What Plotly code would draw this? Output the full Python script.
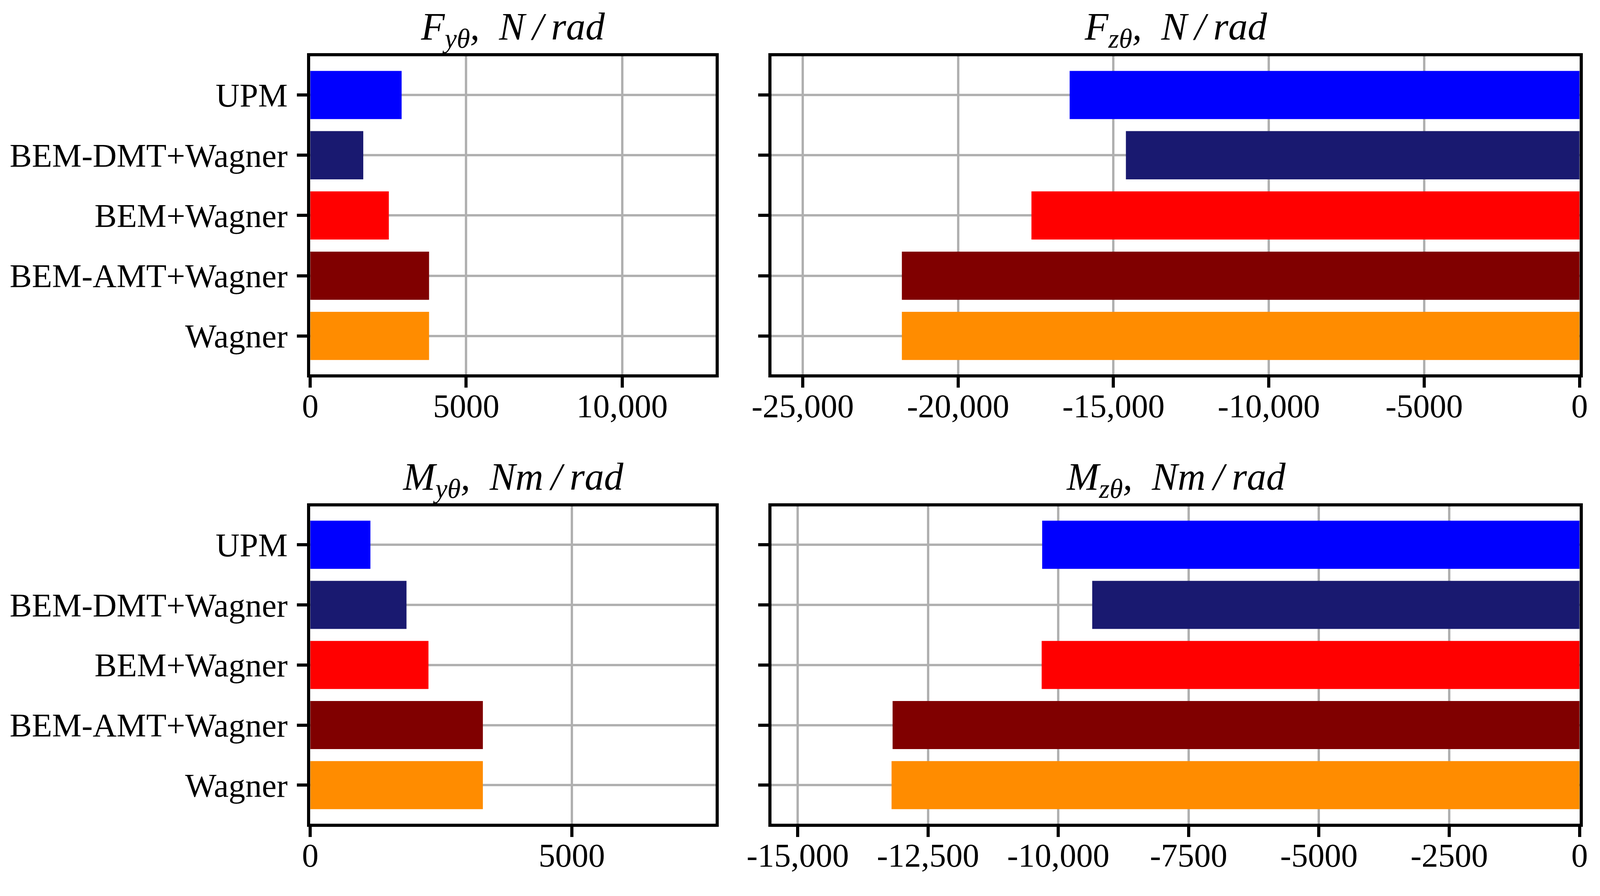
import plotly.graph_objects as go

# bar order top -> bottom, as in the picture
methods = ["UPM", "BEM-DMT+Wagner", "BEM+Wagner", "BEM-AMT+Wagner", "Wagner"]
colors = ["#0000ff", "#191970", "#ff0000", "#800000", "#ff8c00"]

fy_theta = [2930, 1700, 2520, 3810, 3810]
fz_theta = [-16410, -14600, -17640, -21810, -21810]
my_theta = [1150, 1840, 2260, 3300, 3300]
mz_theta = [-10310, -9350, -10320, -13180, -13200]

fy_ticks = [0, 5000, 10000]
fy_labels = ["0", "5000", "10,000"]
fz_ticks = [-25000, -20000, -15000, -10000, -5000, 0]
fz_labels = ["-25,000", "-20,000", "-15,000", "-10,000", "-5000", "0"]
my_ticks = [0, 5000]
my_labels = ["0", "5000"]
mz_ticks = [-15000, -12500, -10000, -7500, -5000, -2500, 0]
mz_labels = ["-15,000", "-12,500", "-10,000", "-7500", "-5000", "-2500", "0"]

# the page comes out ~1% magnified and keeps its 8px body margin,
# so the figure is made a little smaller than the window
W, H = 4076, 2252
FONT = "Liberation Serif"
GRID = "#b0b0b0"

panels = [
    # values, ticks, labels, xrange, xdomain, ydomain, title, show names
    (fy_theta, fy_ticks, fy_labels, [0, 13000], [0.1929, 0.4475], [0.5780, 0.9394],
     "<i>F<sub>yθ</sub>,  N\u2009/\u2009rad</i>", True),
    (fz_theta, fz_ticks, fz_labels, [-26000, 0], [0.4827, 0.9901], [0.5780, 0.9394],
     "<i>F<sub>zθ</sub>,  N\u2009/\u2009rad</i>", False),
    (my_theta, my_ticks, my_labels, [0, 7750], [0.1929, 0.4475], [0.0676, 0.4282],
     "<i>M<sub>yθ</sub>,  Nm\u2009/\u2009rad</i>", True),
    (mz_theta, mz_ticks, mz_labels, [-15500, 0], [0.4827, 0.9901], [0.0676, 0.4282],
     "<i>M<sub>zθ</sub>,  Nm\u2009/\u2009rad</i>", False),
]

fig = go.Figure()
layout = {}
annotations = []

for i, (vals, tv, tt, xr, xd, yd, title, names) in enumerate(panels, start=1):
    sfx = "" if i == 1 else str(i)
    fig.add_trace(go.Bar(
        x=vals, y=methods, orientation="h", width=0.8,
        marker=dict(color=colors, line=dict(width=0)),
        xaxis="x" + sfx, yaxis="y" + sfx, showlegend=False,
    ))
    common = dict(
        showline=True, mirror=True, linecolor="black", linewidth=8,
        showgrid=True, gridcolor=GRID, gridwidth=6, zeroline=False,
        ticks="outside", ticklen=26, tickwidth=8, tickcolor="black",
        tickfont=dict(family=FONT, size=85, color="black"),
        layer="below traces", automargin=False,
    )
    layout["xaxis" + sfx] = dict(
        common, domain=xd, range=xr, tickvals=tv, ticktext=tt,
        anchor="y" + sfx, ticklabelstandoff=-26,
    )
    layout["yaxis" + sfx] = dict(
        common, domain=yd, range=[4.64, -0.64], type="category",
        categoryorder="array", categoryarray=methods,
        showticklabels=names, anchor="x" + sfx, ticklabelstandoff=7,
    )
    annotations.append(dict(
        text=title, xref="paper", yref="paper", x=(xd[0] + xd[1]) / 2, y=yd[1],
        xanchor="center", yanchor="bottom", yshift=5, showarrow=False,
        font=dict(family=FONT, size=99, color="black"),
    ))

fig.update_layout(
    **layout,
    template="none",
    annotations=annotations,
    width=W, height=H,
    margin=dict(l=0, r=0, t=0, b=0, autoexpand=False),
    paper_bgcolor="white", plot_bgcolor="white",
    bargap=0.2,
)

fig.write_html("out.html")
